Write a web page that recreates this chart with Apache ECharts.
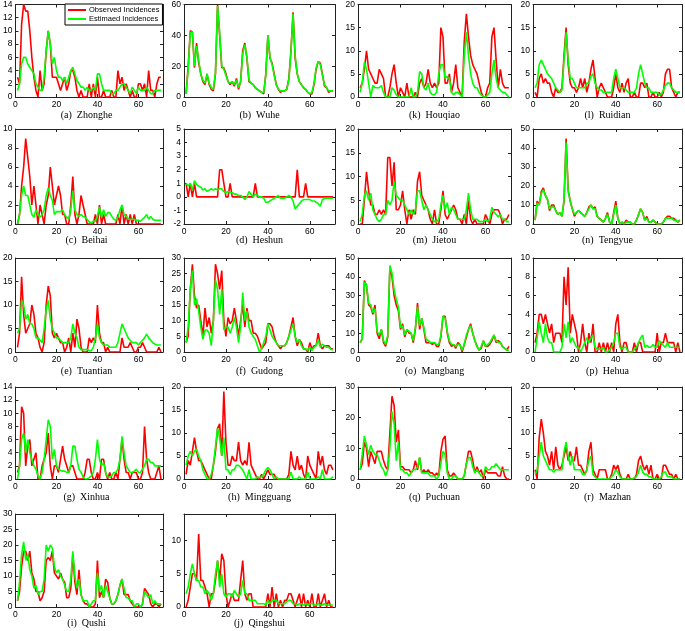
<!DOCTYPE html>
<html><head><meta charset="utf-8">
<script src="https://cdn.jsdelivr.net/npm/echarts@6/dist/echarts.min.js"></script>
<style>html,body{margin:0;padding:0;background:#fff}#c{width:685px;height:631px}</style>
</head><body><div id="c"></div>
<script>
// ---- data (weekly incidences, weeks 1..71) ----
const zhongheObs = [3,2,11,14,13,13,10,6,3,1, 0,4,1,2,7,10,8,3,3,3, 2,1,2,3,1,2,4,4,3,1, 0,1,0,0,0,2,0,2,0,3, 0,0,1,0,0,0,1,0,0,4, 2,3,1,2,1,0,1,0,0,2, 2,1,2,0,4,1,1,0,2,3,3];
const zhongheEst = [1,2,5,6,6,5,4.5,4,3.5,2, 1.5,1,1,3,7,10,8,5,6,4, 3,3,2.5,3,2,3,4,4.5,3.5,2.5, 2,1.5,1.5,1,1.5,1,1,1.5,1,3.5, 3.5,2,1,1,1,1,0.5,0.5,1,1, 1.5,2,2,1.5,1,0.5,1.5,1,0.5,1.5, 1,1,1,1.5,1,0.5,0.5,1,1,1,1];
const wuheObs = [2,20,43,42,19,35,22,15,10,8, 15,8,5,4,15,60,40,19,19,15, 10,8,10,7,12,5,10,30,35,25, 10,9,8,6,5,4,3,2,15,40, 25,22,15,8,5,3,4,4,5,12, 30,55,25,15,10,8,6,5,3,2, 2,8,18,23,22,15,7,6,3,4,4];
const wuheEst = [2,18,42,42,20,33,24,15,11,9, 15,9,6,5,16,59,42,20,18,14, 10,9,10,8,11,6,10,28,34,26, 11,9,8,6,5,4,3,3,14,40, 26,21,14,8,5,4,4,4,5,11, 29,54,27,15,10,8,6,5,3,2, 3,9,19,23,21,14,8,6,4,4,4];
const houqiaoObs = [2,3,6,10,6,5,4,3,3,6, 5,4,0,0,2,5,7,3,0,2, 1,0,3,0,0,0,1,0,3,4, 2,3,6,3,2,3,2,3,15,13, 3,3,5,1,3,7,2,1,0,12, 18,13,9,7,6,5,3,1,0,0, 2,3,13,15,8,2,6,3,2,2,2];
const houqiaoEst = [1,3,7.5,6,3,0,2.5,2,2,2, 2.5,1,0,0,0,2,1.5,0.5,0,0, 0,0,0,0,2,0,0,1,5.5,5, 2,1.5,3,1,0.5,0.5,1,5,7,7, 4,4.5,4,1,0.5,1,1,0.5,0,9, 14,9,5,3,2,2,1,0.5,0,0, 0.5,1,5,8,4,2,1.5,1,1,0.5,0];
const ruidianObs = [1,0,4,5,3,4,3,3,1,0, 2,1,1,2,9,15,7,3,2,2, 1,2,4,2,4,1,3,6,8,4, 0,2,3,2,1,0,0,0,2,5, 2,1,3,1,3,4,0,0,1,0, 0,3,3,2,3,0,0,1,0,0, 1,0,1,5,6,6,2,1,0,1,1];
const ruidianEst = [2,3,7,8,7,6,5,4.5,4,3, 2,1.5,1,1.5,8,14,8,4,4,3, 2,2,2,2,2,3,3,4.5,5,3, 2,1.5,1.5,1,1,1,1,1,4,6, 4,2,2,2,1.5,1,1,1,1,2, 5,7,5,3,2,2,1,1,1,1, 0.5,0.5,1.5,2.5,3,3,2,1.5,1,1,1];
const beihaiObs = [0,1,4,6,9,7,5,2,4,2, 0,2,1,0,2,3,6,4,2,3, 4,3,1,1,0,0,2,5,1,0, 1,3,2,1,0,0,0,0,1,0, 2,0,1,0,0,0,0,0,0,1, 0,2,0,1,0,1,0,1,0,0, 0,0,0,0,0,0,0,0,0,0,0];
const beihaiEst = [0,1,3,4,3,3,2,1,0.7,1.5, 1,0.7,1,1.5,3,3.8,3,2.5,1,1.3, 1.3,1.3,1.5,1,0.7,0.5,1.5,3.5,1.5,1, 0.8,1,0.8,0.7,0.5,0.2,0.1,0.3,0.3,0.8, 1.8,0.7,1.5,0.8,1.2,1.2,0.8,0.5,0.4,0.7, 1.5,2,1,0.8,0.5,0.5,0.5,0.5,0.4,0.4, 0.3,0.5,0.7,1,0.5,0.8,0.5,0.4,0.4,0.4,0.4];
const heshunObs = [1,0,1,0,1,0,0,0,0,0, 0,0,0,0,0,0,2,2,1,0, 0,1,0,0,0,0,0,0,0,0, 0,0,0,1,0,0,0,0,0,0, 0,0,0,0,0,0,0,0,0,0, 0,0,0,2,0,0,0,1,0,0, 0,0,0,0,0,0,0,0,0,0,0];
const heshunEst = [1,0.8,1,0.5,1.2,0.9,0.8,0.7,0.5,0.6, 0.4,0.5,0.6,0.5,0.6,0.5,0.6,0.6,0.4,0.3, 0.4,0.3,0.3,0.2,0.2,0.1,0.1,0,-0.2,0, 0.4,0.2,0,0.2,0.1,0,0,-0.1,-0.4,-0.4, -0.3,-0.2,-0.1,0,0.1,-0.1,-0.1,-0.1,0,0.1, 0,-0.3,-0.9,-0.7,-0.5,-0.3,-0.2,-0.2,-0.2,-0.2, -0.3,-0.3,-0.4,-0.5,-0.7,-0.2,-0.1,-0.1,-0.1,-0.1,-0.1];
const jietouObs = [0,0,5,11,7,4,4,2,2,3, 2,3,2,14,14,8,13,3,3,4, 7,3,0,3,1,3,2,9,11,6, 5,4,3,1,0,3,0,0,3,7, 2,1,2,3,4,3,1,1,0,2, 0,5,1,0,1,0,0,0,0,2, 1,0,2,3,3,3,2,0,1,1,2];
const jietouEst = [0.5,2,6,7,5,6.5,3,2,1,0.5, 1,2,2,5,4,5,9,6,5.5,5, 5,4,3,2,3,2,3,7,7,5, 3,4,3,2,1,0.5,0.5,1,4,6, 3,4.5,2,3.5,3,2,1,1,1,1, 3,6.5,3,1,1,1,0.5,0.5,0.5,1, 0.5,1,3.5,2.5,2,1.5,2,1,1,0.5,0.5];
const tengyueObs = [2,12,10,17,19,15,13,7,10,10, 7,5,6,4,12,45,18,12,8,4, 6,7,6,5,4,6,9,10,8,9, 4,3,2,1,3,6,1,0,6,12, 3,0,1,0,2,1,1,0,0,2, 5,8,6,2,4,1,1,2,1,0, 0,0,1,3,4,4,3,3,2,1,2];
const tengyueEst = [2,11,10,16,18,15,13,8,9,9, 7,5,6,4,13,43,17,12,8,5, 6,7,6,5,4,6,8,10,8,8, 4,3,2,1,3,5,1,0,5,10, 3,0,1,0,1,1,1,0,0,2, 5,8,6,2,3,1,1,2,1,0, 0,0,1,3,3,3,3,2,2,1,2];
const tuantianObs = [1,4,16,8,4,5,6,10,8,4, 3,1,0,2,10,14,12,4,3,4, 3,2,2,0,1,3,0,4,1,7, 5,1,0,0,0,3,2,3,2,10, 4,2,2,0,1,0,0,0,0,0, 0,3,1,1,1,2,1,0,0,1, 1,2,1,0,0,0,0,0,0,1,0];
const tuantianEst = [4,5,11,10,7,8,6,6,5,3, 3,2.5,2,5,9,11,7,5,4,3, 3,2.5,2,2,2,2,3,6,4,3, 1,0.5,0.5,0.5,0.5,0.3,0.3,1,3,6, 3,2,1.5,1.5,1.5,1,1,1,1,2, 4,6,5,4,3,2.5,2,2,2,1.5, 2,2.5,3,3.8,3,2.5,2,1.7,1.5,1.5,1.5];
const gudongObs = [3,5,20,28,18,14,15,10,5,14, 8,11,6,10,28,25,20,26,10,5, 11,9,10,14,10,5,10,15,8,14, 10,10,6,6,5,3,1,2,3,9, 9,8,5,3,2,1,2,2,3,5, 8,11,5,2,4,3,1,1,0,3, 1,2,2,6,2,1,2,2,2,1,1];
const gudongEst = [3,8,20,26,15,17,13,8,4,7, 7,6,2,10,23,20,12,20,7,8, 8,6,8,11,8,3,8,19,10,13, 8,6,5,4,2,0,1,3,5,9, 7,5,4,3,2,2,2,2,3,5, 7,9,5,3,4,2,1,1,0.5,1.5, 0.5,1.5,2,4,1.5,2.5,2,1.5,1.5,1,0.5];
const mangbangObs = [5,7,38,35,25,24,20,25,10,7, 12,5,3,8,45,40,30,25,22,12, 15,8,12,10,10,5,12,26,12,18, 12,5,5,5,4,5,3,3,8,19, 19,10,5,3,4,2,5,4,0,4, 8,12,15,10,6,3,1,2,6,3, 3,4,6,9,5,6,5,3,2,1,3];
const mangbangEst = [5,7,37,36,26,25,21,23,11,9, 12,6,4,9,46,42,33,28,24,13, 14,9,12,11,10,6,13,24,14,18, 13,7,6,5,5,5,4,4,9,19, 18,11,6,4,4,3,4,4,1,4, 9,12,14,10,6,3,1,3,6,3, 4,5,7,9,6,5,5,3,2,1,1];
const hehuaObs = [1,2,4,4,3,4,3,2,3,1, 2,2,2,1,8,5,9,2,4,3, 2,0,1,3,1,0,2,1,3,0, 0,1,0,1,0,1,0,1,0,3, 4,1,0,1,1,0,0,0,1,0, 1,1,0,0,0,0,0,0,0,2, 0,1,1,2,1,1,1,1,0,1,0];
const hehuaEst = [0,1.5,3.2,2,1,3,1.5,1,1,0, 0,0,0,0.5,3,1.5,3.2,1,1.5,1, 0.5,0.5,0,0.5,1,1.5,1,1.5,1.8,0.5, 0.3,0.3,0.3,0.5,0,0,0.2,0.5,1,2, 2,0.5,0.3,0.5,0.5,0,0,0,0.3,0.5, 1,1.5,1.8,0.5,0.7,0.5,0.5,0.8,0.5,0.5, 1.2,1,0.7,0.5,1,0.5,0.5,0.5,0.5,0.5,0.5];
const xinhuaObs = [1,2,11,10,2,5,6,2,3,4, 0,0,2,3,4,7,2,0,2,2, 1,3,5,3,2,1,2,2,1,0, 0,0,0,1,3,3,1,0,0,1, 0,3,3,1,0,1,0,0,1,0, 3,6,3,1,1,0,1,1,1,0, 0,1,8,3,1,0,0,0,1,2,0];
const xinhuaEst = [0,2,6,7,4,6,4,3,2,1.5, 0.5,0,1,3,6,9,8,3,4.5,2, 1.5,1.3,1.2,1.2,1,1,2,5,5,3, 1.5,1,0.3,0,0,0.2,0.5,1,3,6, 3,2,2.5,1,0.3,0.3,0.5,1,1,1.5, 3,6.5,4,2,1.5,1,1,1.2,1.5,1, 1,1.5,2,3,3,2.5,2.5,2,2,2,2];
const mingguangObs = [1,4,3,6,9,6,4,4,3,2, 1,0,0,3,6,11,12,5,19,8, 3,3,5,4,4,8,4,3,4,3, 8,3,2,1,0,0,1,0,1,2, 1,1,1,0,0,0,0,0,0,1, 6,3,2,5,2,3,1,0,5,3, 2,1,0,6,3,5,2,1,3,3,2];
const mingguangEst = [3,5,6,5,6,6.5,5,4,2,1, 0,0,1,3,7,11,9,5,9,2, 2,1,2,2,3,3,2.5,2,1,0, 2,0,0,0,0.5,0.3,0.5,1,2,2.5, 2,1,0,0.5,0,0,0,0,0,0, 1.5,0,0,0,0.5,0,0,0,1.5,0, 0,0,0,0.5,0,2,0,0,0,0,0.5];
const puchuanObs = [3,5,12,10,4,9,7,5,9,9, 9,6,4,3,15,27,24,12,16,4, 4,3,3,3,2,3,6,3,7,2, 3,2,3,2,2,1,2,1,9,13, 14,3,1,1,2,1,0,0,0,1, 5,9,9,6,2,4,2,3,0,3, 2,2,2,2,2,1,1,4,1,0,0];
const puchuanEst = [3,8,14,11,8,11,9,8,8,6, 4,3,1,3,10,22,18,6,12,3, 3,2,2,1,2,3,3,4,7,2, 2,2,2,1,1,1,0,1,5,9, 8,2,0,0,1,1,0,0,0,1, 5,7,7,4,2,3,2,1,1,4, 3,3,4,4,5,4,3,3,3,3,3];
const mazhanObs = [2,0,9,13,10,6,5,3,6,2, 7,3,2,3,5,7,4,6,4,4, 7,3,3,2,1,2,6,8,2,1, 0,2,2,2,2,0,0,1,3,2, 3,1,0,0,0,1,0,0,0,1, 4,5,3,2,3,1,3,0,0,1, 0,0,3,3,2,1,1,0,1,0,0];
const mazhanEst = [1,2,5,8,5,4,3,2,2,1.5, 2,2,2,2,6,8,5,3,5,2, 2,2,2,1,1,2,4,5,1,0.5, 0,0,0,0,0,0,0,0.5,1,2, 1.5,0.5,0,0,0,0,0,0,0.3,0.5, 1.5,3,1.5,1,1,0.5,0.5,0,0,0, 0,0.5,1.5,1.5,0.5,0.5,0.5,0,0,0,0];
const qushiObs = [2,5,13,18,18,15,18,11,9,5, 5,2,3,5,15,16,15,18,11,10, 9,11,9,8,3,3,6,17,8,4, 12,4,2,1,1,0,0,0,1,15, 3,5,3,9,8,3,1,1,2,4, 7,9,4,4,4,2,1,0,0,0, 0,1,6,5,4,1,0,1,1,0,1];
const qushiEst = [2,8,17,21,15,17,12,10,6,7, 4,5,5,9,20,18,20,19,13,11, 12,10,9,7,5,5,9,18,10,6, 9,4,2,2,2,0,1,2,2,11, 5,7,3,7,5,3,1,1,2,4, 7,9,6,3,3,2,2,0,1,1, 0,1,5,4,3,4,1,2,1,1,1];
const qingshuiObs = [0,1,3,5,5,4,11,4,4,3, 2,0,2,2,4,7,4,8,7,2, 0,1,2,1,1,1,4,7,2,1, 2,2,0,0,0,0,0,0,0,2, 0,3,0,2,0,1,0,1,1,2, 2,1,0,1,2,0,2,0,1,0, 2,0,0,2,0,1,2,0,1,0,0];
const qingshuiEst = [2,3,5,6.5,5,4,4,3,3,2, 2.5,2,1,2,5,7,3,5,2,1.5, 2,2,1.5,2.5,2,1.5,2,4,2,2, 1,1,1,1,0.5,0.5,0.5,0.5,0.3,1, 0.5,1,1,1,0.5,0.5,0.5,0.5,0.8,1, 1,0.5,0.5,0.3,0.5,0.5,0.3,0.5,0.3,0.5, 0.5,0.3,0.3,0.5,0.3,0.3,0.5,0.3,0.3,0.3,0.3];

const xTicks = {min: 0, max: 72, step: 20};
const legendNames = ['Observed Incidences', 'Estimaed Incidences'];

const panels = [
  {cap: '(a)  Zhonghe',   obs: zhongheObs,   est: zhongheEst,   yMin: 0,  yMax: 14, yStep: 2,  col: 0, row: 0},
  {cap: '(b)  Wuhe',      obs: wuheObs,      est: wuheEst,      yMin: 0,  yMax: 60, yStep: 20, col: 1, row: 0},
  {cap: '(k)  Houqiao',   obs: houqiaoObs,   est: houqiaoEst,   yMin: 0,  yMax: 20, yStep: 5,  col: 2, row: 0},
  {cap: '(l)  Ruidian',   obs: ruidianObs,   est: ruidianEst,   yMin: 0,  yMax: 20, yStep: 5,  col: 3, row: 0},
  {cap: '(c)  Beihai',    obs: beihaiObs,    est: beihaiEst,    yMin: 0,  yMax: 10, yStep: 2,  col: 0, row: 1},
  {cap: '(d)  Heshun',    obs: heshunObs,    est: heshunEst,    yMin: -2, yMax: 5,  yStep: 1,  col: 1, row: 1},
  {cap: '(m)  Jietou',    obs: jietouObs,    est: jietouEst,    yMin: 0,  yMax: 20, yStep: 5,  col: 2, row: 1},
  {cap: '(n)  Tengyue',   obs: tengyueObs,   est: tengyueEst,   yMin: 0,  yMax: 50, yStep: 10, col: 3, row: 1},
  {cap: '(e)  Tuantian',  obs: tuantianObs,  est: tuantianEst,  yMin: 0,  yMax: 20, yStep: 5,  col: 0, row: 2},
  {cap: '(f)  Gudong',    obs: gudongObs,    est: gudongEst,    yMin: 0,  yMax: 30, yStep: 5,  col: 1, row: 2},
  {cap: '(o)  Mangbang',  obs: mangbangObs,  est: mangbangEst,  yMin: 0,  yMax: 50, yStep: 10, col: 2, row: 2},
  {cap: '(p)  Hehua',     obs: hehuaObs,     est: hehuaEst,     yMin: 0,  yMax: 10, yStep: 2,  col: 3, row: 2},
  {cap: '(g)  Xinhua',    obs: xinhuaObs,    est: xinhuaEst,    yMin: 0,  yMax: 14, yStep: 2,  col: 0, row: 3},
  {cap: '(h)  Mingguang', obs: mingguangObs, est: mingguangEst, yMin: 0,  yMax: 20, yStep: 5,  col: 1, row: 3},
  {cap: '(q)  Puchuan',   obs: puchuanObs,   est: puchuanEst,   yMin: 0,  yMax: 30, yStep: 10, col: 2, row: 3},
  {cap: '(r)  Mazhan',    obs: mazhanObs,    est: mazhanEst,    yMin: 0,  yMax: 20, yStep: 5,  col: 3, row: 3},
  {cap: '(i)  Qushi',     obs: qushiObs,     est: qushiEst,     yMin: 0,  yMax: 30, yStep: 5,  col: 0, row: 4},
  {cap: '(j)  Qingshui',  obs: qingshuiObs,  est: qingshuiEst,  yMin: 0,  yMax: 14, yStep: 5,  col: 1, row: 4}
];

// layout (pixels)
const colsX = [[10, 153], [184, 151], [358, 153], [533, 149]];
const rowsY = [[3, 94, 115], [129, 95, 240], [258, 94, 371], [387, 92, 497], [514, 93, 623]];

const SANS = '"Liberation Sans", Arial, sans-serif';
const SERIF = '"Liberation Serif", "DejaVu Serif", serif';
const grid = [], xAxis = [], yAxis = [], series = [], graphic = [];

function axisBase(show) {
  return {
    axisLine: {show: true, onZero: false, lineStyle: {color: '#222', width: 1}},
    axisTick: {show: true, inside: true, length: 3, lineStyle: {color: '#222', width: 1}},
    splitLine: {show: false},
    axisLabel: {show: show, fontSize: 8.5, color: '#000', fontFamily: SANS, margin: 3}
  };
}

panels.forEach((p, i) => {
  const [gl, gw] = colsX[p.col];
  const [gt, gh, capY] = rowsY[p.row];
  grid.push({left: gl, top: gt, width: gw, height: gh, containLabel: false});
  const xb = Object.assign(axisBase(true), {gridIndex: i, type: 'value', position: 'bottom', min: xTicks.min, max: xTicks.max, interval: xTicks.step});
  xb.axisLabel.showMaxLabel = false;
  const xt = Object.assign(axisBase(false), {gridIndex: i, type: 'value', position: 'top', min: xTicks.min, max: xTicks.max, interval: xTicks.step});
  xAxis.push(xb, xt);
  const yl = Object.assign(axisBase(true), {gridIndex: i, type: 'value', position: 'left', min: p.yMin, max: p.yMax, interval: p.yStep});
  yl.axisLabel.showMaxLabel = ((p.yMax - p.yMin) % p.yStep === 0);
  yl.axisLabel.showMinLabel = true;
  const yr = Object.assign(axisBase(false), {gridIndex: i, type: 'value', position: 'right', min: p.yMin, max: p.yMax, interval: p.yStep});
  yAxis.push(yl, yr);
  const mk = arr => arr.map((v, k) => [k + 1, v]);
  series.push({
    name: legendNames[0], type: 'line', xAxisIndex: 2 * i, yAxisIndex: 2 * i,
    data: mk(p.obs), symbol: 'none', showSymbol: false, clip: true,
    lineStyle: {color: '#ff0000', width: 1.6}, itemStyle: {color: '#ff0000'}, z: 2
  });
  series.push({
    name: legendNames[1], type: 'line', xAxisIndex: 2 * i, yAxisIndex: 2 * i,
    data: mk(p.est), symbol: 'none', showSymbol: false, clip: true,
    lineStyle: {color: '#00ff00', width: 1.6}, itemStyle: {color: '#00ff00'}, z: 3
  });
  graphic.push({
    type: 'text', x: gl + gw / 2, y: capY,
    style: {text: p.cap, font: '10px ' + SERIF, fill: '#000', align: 'center', verticalAlign: 'middle'}
  });
});

const chart = echarts.init(document.getElementById('c'), null, {renderer: 'canvas'});
chart.setOption({
  animation: false,
  backgroundColor: '#fff',
  grid, xAxis, yAxis, series, graphic,
  legend: {
    data: legendNames, left: 65, top: 4, orient: 'vertical', selectedMode: false,
    icon: 'rect', itemWidth: 18, itemHeight: 2, itemGap: 1, padding: [2, 3, 2, 3],
    backgroundColor: '#fff', borderColor: '#000', borderWidth: 1,
    textStyle: {fontSize: 7.5, color: '#000', fontFamily: SANS, padding: [0, 0, 0, -2]}
  }
});
</script></body></html>
